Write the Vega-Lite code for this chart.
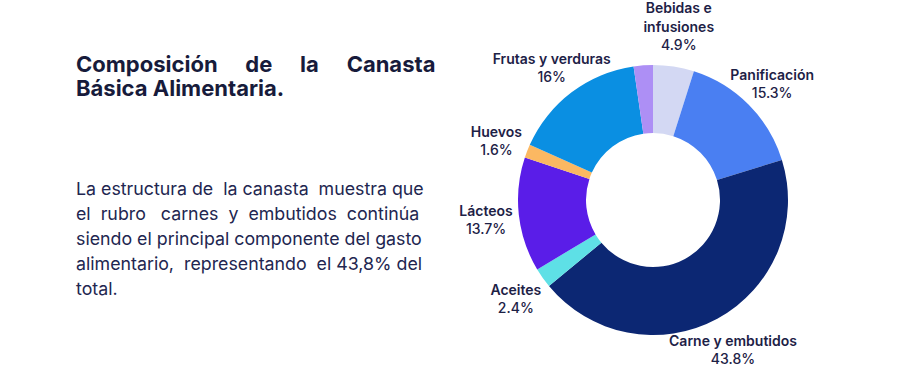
{
  "$schema": "https://vega.github.io/schema/vega-lite/v6.json",
  "background": "white",
  "padding": {"left": 76, "top": 0, "right": 0, "bottom": 0},
  "bounds": "flush",
  "spacing": 442,
  "config": {"view": {"stroke": null}, "font": "Inter"},
  "hconcat": [
    {
      "bounds": "flush",
      "spacing": 101,
      "vconcat": [
        {
          "width": 361,
          "height": 24,
          "data": {"values": [
            {"linea": 1, "texto": "Composición\u00a0\u00a0\u00a0\u00a0\u00a0\u200ade\u00a0\u00a0\u00a0\u00a0\u00a0\u200ala\u00a0\u00a0\u00a0\u00a0\u00a0\u200aCanasta"},
            {"linea": 2, "texto": "Básica Alimentaria."}
          ]},
          "mark": {"type": "text", "align": "left", "baseline": "middle", "font": "Inter", "fontSize": 22, "fontWeight": 700, "color": "#171b3b"},
          "encoding": {
            "y": {"field": "linea", "type": "ordinal", "scale": {"type": "point", "padding": 0}, "axis": null},
            "x": {"datum": 0, "type": "quantitative", "scale": {"domain": [0, 1]}, "axis": null},
            "text": {"field": "texto"}
          }
        },
        {
          "width": 361,
          "height": 100,
          "data": {"values": [
            {"linea": 1, "texto": "La estructura de\u00a0\u00a0la canasta\u00a0\u00a0muestra que"},
            {"linea": 2, "texto": "el\u00a0\u00a0rubro\u00a0\u00a0\u00a0carnes\u00a0\u00a0y\u00a0\u00a0embutidos\u00a0\u00a0continúa"},
            {"linea": 3, "texto": "siendo el principal componente del gasto"},
            {"linea": 4, "texto": "alimentario,\u00a0\u00a0representando\u00a0\u00a0el 43,8% del"},
            {"linea": 5, "texto": "total."}
          ]},
          "mark": {"type": "text", "align": "left", "baseline": "middle", "font": "Inter", "fontSize": 17.8, "fontWeight": 400, "color": "#222650"},
          "encoding": {
            "y": {"field": "linea", "type": "ordinal", "scale": {"type": "point", "padding": 0}, "axis": null},
            "x": {"datum": 0, "type": "quantitative", "scale": {"domain": [0, 1]}, "axis": null},
            "text": {"field": "texto"}
          }
        }
      ]
    },
    {
      "width": 270,
      "height": 270,
      "data": {"values": [
        {"orden": 1, "categoria": "Bebidas e infusiones", "rotulo1": "Bebidas e", "rotulo2": "infusiones", "valor": 4.9},
        {"orden": 2, "categoria": "Panificación", "rotulo1": "", "rotulo2": "Panificación", "valor": 15.3},
        {"orden": 3, "categoria": "Carne y embutidos", "rotulo1": "", "rotulo2": "Carne y embutidos", "valor": 43.8},
        {"orden": 4, "categoria": "Aceites", "rotulo1": "", "rotulo2": "Aceites", "valor": 2.4},
        {"orden": 5, "categoria": "Lácteos", "rotulo1": "", "rotulo2": "Lácteos", "valor": 13.7},
        {"orden": 6, "categoria": "Huevos", "rotulo1": "", "rotulo2": "Huevos", "valor": 1.6},
        {"orden": 7, "categoria": "Frutas y verduras", "rotulo1": "", "rotulo2": "Frutas y verduras", "valor": 16},
        {"orden": 8, "categoria": "Otros", "rotulo1": "", "rotulo2": "", "valor": 2.3}
      ]},
      "transform": [
        {"calculate": "datum.rotulo2 == '' ? '' : datum.valor + '%'", "as": "porcentaje"}
      ],
      "encoding": {
        "theta": {"field": "valor", "type": "quantitative", "stack": true},
        "order": {"field": "orden", "type": "quantitative"}
      },
      "layer": [
        {
          "mark": {"type": "arc", "innerRadius": 67, "outerRadius": 135},
          "encoding": {
            "color": {
              "field": "categoria",
              "type": "nominal",
              "legend": null,
              "scale": {
                "domain": ["Bebidas e infusiones", "Panificación", "Carne y embutidos", "Aceites", "Lácteos", "Huevos", "Frutas y verduras", "Otros"],
                "range": ["#d3d8f3", "#4a7ff2", "#0c2773", "#5ee0e6", "#5a1de8", "#fbb862", "#0a8fe2", "#ad8ff5"]
              }
            }
          }
        },
        {
          "mark": {"type": "text", "radius": 168, "font": "Inter", "fontSize": 14, "fontWeight": 600, "color": "#1d2146", "align": "center", "baseline": "bottom", "dy": -18},
          "encoding": {
            "text": {"field": "rotulo1"}
          }
        },
        {
          "mark": {"type": "text", "radius": 168, "font": "Inter", "fontSize": 14, "fontWeight": 600, "color": "#1d2146", "align": "center", "baseline": "bottom", "dy": 1},
          "encoding": {
            "text": {"field": "rotulo2"}
          }
        },
        {
          "mark": {"type": "text", "radius": 168, "font": "Inter", "fontSize": 14, "fontWeight": 500, "color": "#1d2146", "align": "center", "baseline": "top", "dy": 5},
          "encoding": {
            "text": {"field": "porcentaje"}
          }
        }
      ]
    }
  ]
}
